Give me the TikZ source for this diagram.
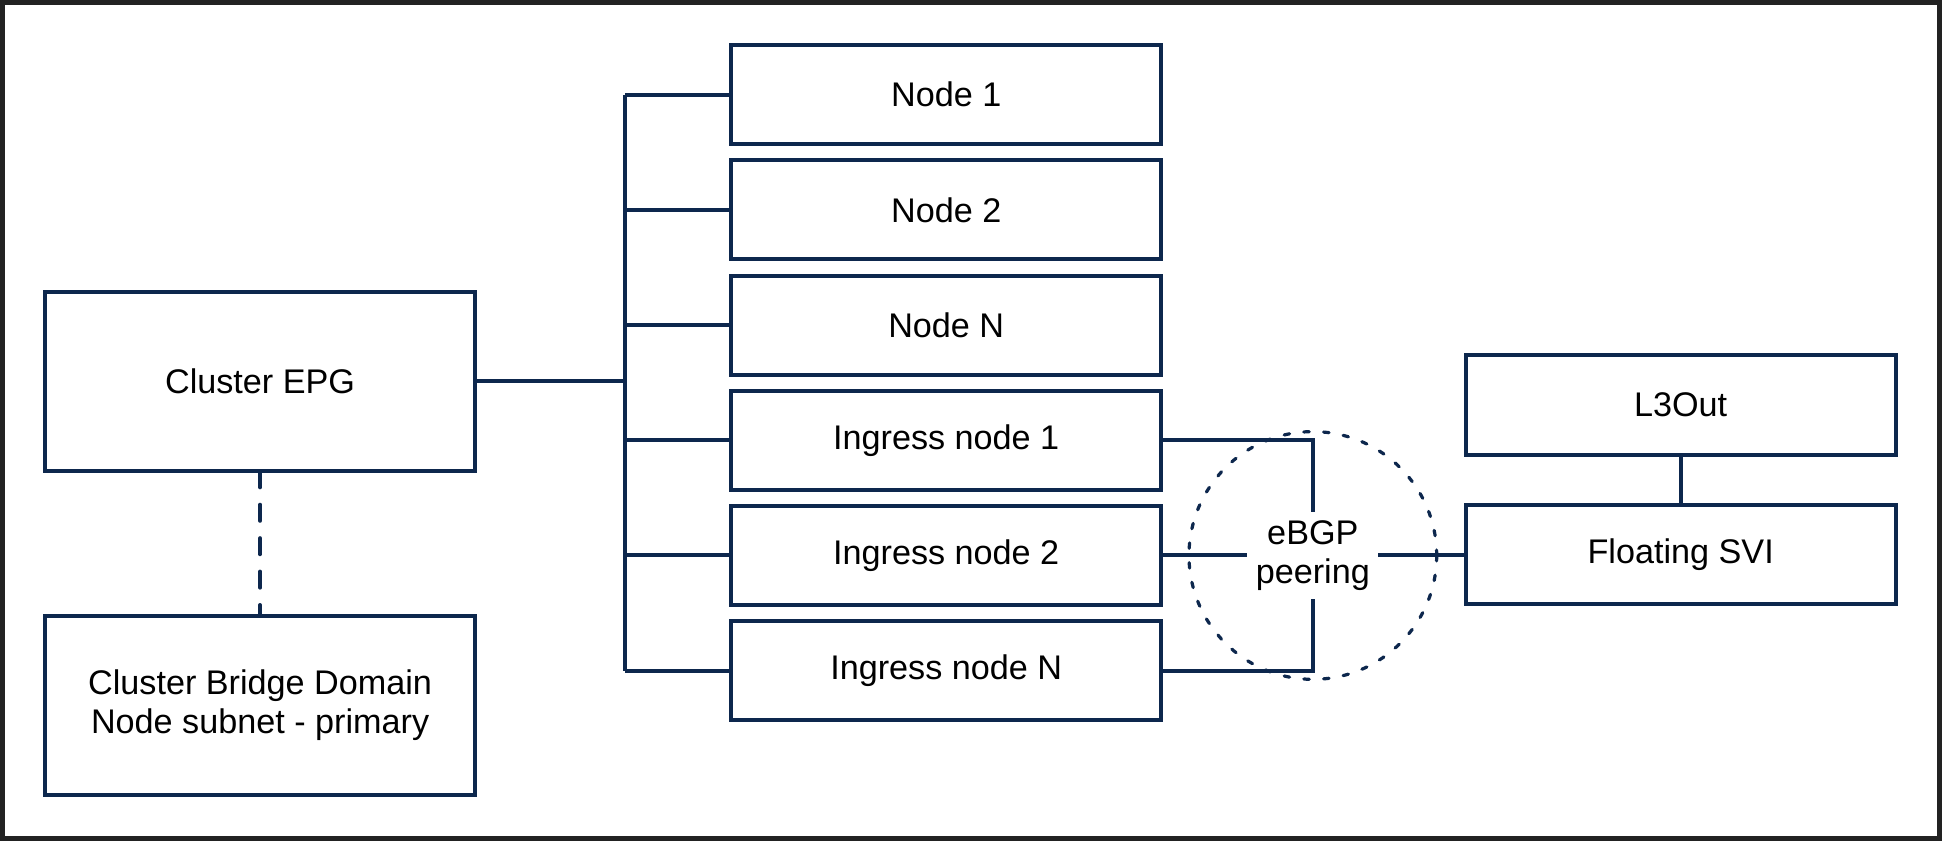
\documentclass[tikz,border=0pt]{standalone}
\usepackage{fontspec}
\setmainfont{Liberation Sans}
\usepackage{tikz}
\usetikzlibrary{positioning}

\definecolor{navy}{HTML}{0D274D}
\definecolor{framegray}{HTML}{222222}

\begin{document}
\begin{tikzpicture}[
                x = 0.5pt,
                y = -0.5pt,
                box/.style = {
                    draw = navy,
                    line width = 1.6pt,
                    rectangle,
                    minimum width = 173.5pt,
                    minimum height = #1,
                    inner sep = 0pt,
                    outer sep = 0pt,
                    align = center,
                    font = \fontsize{13.8}{16}\selectfont
                },
                box/.default = 40pt,
                link/.style = {
                    draw = navy,
                    line width = 1.6pt
                },
                node distance = {6.5pt}
            ]
            \useasboundingbox (0,0) rectangle (1568,679);
            \draw[line width = 1.8pt, framegray] (2,2) rectangle (1566,677);
            % 
            \node[box=72.5pt] (epg) at (210,308) {Cluster EPG};
            \node[box=72.5pt] (bd) at (210,569.5) {Cluster Bridge Domain\\Node subnet - primary};
            % 
            \node[box] (n1) at (764,76.5) {Node 1};
            \node[box, below=of n1] (n2) {Node 2};
            \node[box, below=of n2] (nn) {Node N};
            \node[box, below=of nn] (in1) {Ingress node 1};
            \node[box, below=of in1] (in2) {Ingress node 2};
            \node[box, below=of in2] (inn) {Ingress node N};
            % 
            \node[box] (l3out) at (1357,327) {L3Out};
            \node[box, below=20.5pt of l3out] (svi) {Floating SVI};
            % 
            \node[align=center, inner sep=3.2pt, font=\fontsize{13.8}{16}\selectfont] (peer) at (1060,448.5) {eBGP\\peering};
            \node[circle, draw=navy, line width=1.3pt, line cap=round, dash pattern=on 2.2pt off 5.8pt, minimum size=100pt, inner sep=0pt] (ring) at (peer) {};
            % 
            \draw[link] (epg.east) -- ++(60.75pt,0) coordinate (bus);
            \draw[link] (bus |- n1.west) -- (bus |- inn.west);
            \draw[link] (bus |- n1.west) -- (n1.west);
            \draw[link] (bus |- n2.west) -- (n2.west);
            \draw[link] (bus |- nn.west) -- (nn.west);
            \draw[link] (bus |- in1.west) -- (in1.west);
            \draw[link] (bus |- in2.west) -- (in2.west);
            \draw[link] (bus |- inn.west) -- (inn.west);
            % 
            \draw[link, dash pattern=on 6.5pt off 7pt, line cap=round] (epg.south) -- (bd.north);
            % 
            \draw[link] (in1.east) -| (peer.north);
            \draw[link] (in2.east) -- (peer.west);
            \draw[link] (inn.east) -| (peer.south);
            \draw[link] (peer.east) -- (peer.east -| svi.west);
            \draw[link] (l3out.south) -- (svi.north);
            % 
        \end{tikzpicture}
\end{document}
